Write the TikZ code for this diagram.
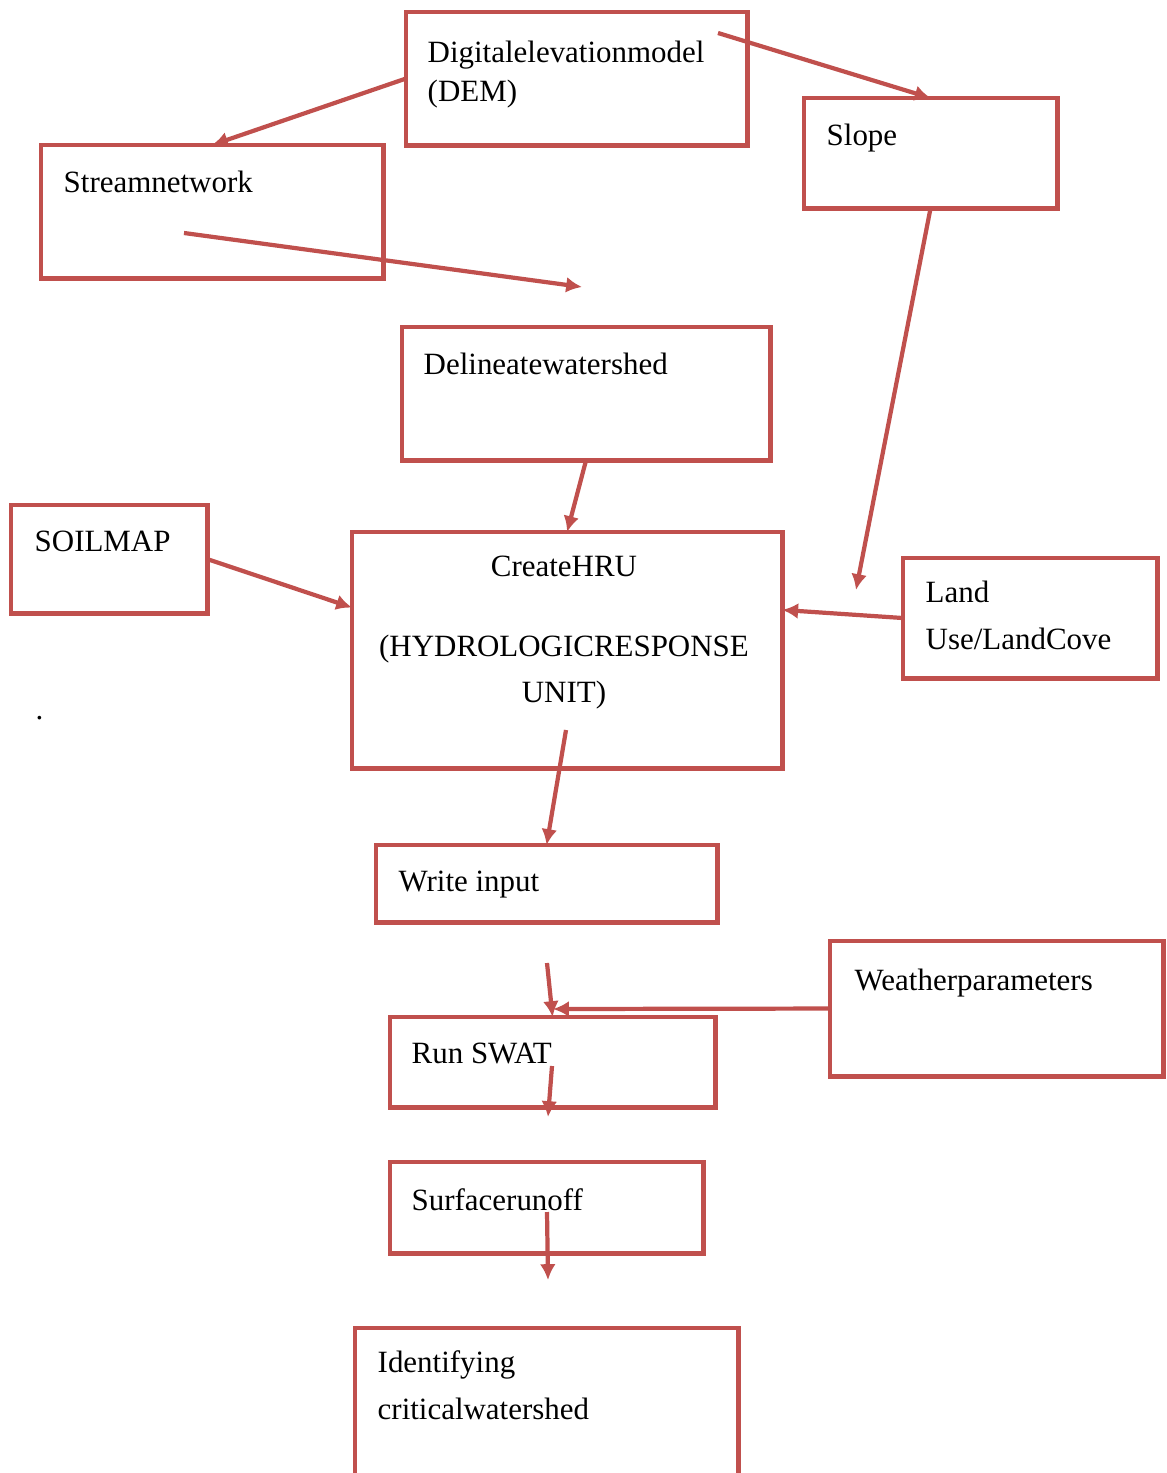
\documentclass[tikz,border=0pt]{standalone}
\usepackage{fontspec}
\setmainfont{Liberation Serif}
\usetikzlibrary{arrows.meta,calc}
\definecolor{boxred}{RGB}{192,80,77}
\tikzset{
	flowbox/.style={draw=boxred, line width=1.4pt, rectangle, anchor=north west, inner sep=0pt, outer sep=0pt},
	boxtext/.style={anchor=north west, inner sep=0pt, align=left, font=\fontsize{8.8}{13.4}\selectfont},
	flowarrow/.style={draw=boxred, line width=1.2pt, -{Latex[length=4.5pt,width=4.5pt]}}
}
\begin{document}
\begin{tikzpicture}[x=0.01cm, y=-0.01cm]
	\useasboundingbox (0,0) rectangle (1166,1473);
	\node[flowbox, minimum width=3.41cm, minimum height=1.33cm] (dem) at (406,12) {};
	\node[flowbox, minimum width=2.53cm, minimum height=1.10cm] (slope) at (804,98) {};
	\node[flowbox, minimum width=3.42cm, minimum height=1.33cm] (stream) at (41,145) {};
	\node[flowbox, minimum width=3.68cm, minimum height=1.33cm] (delin) at (402,327) {};
	\node[flowbox, minimum width=1.96cm, minimum height=1.08cm] (soil) at (11,505) {};
	\node[flowbox, minimum width=4.30cm, minimum height=2.36cm] (hru) at (352,532) {};
	\node[flowbox, minimum width=2.54cm, minimum height=1.20cm] (land) at (903,558) {};
	\node[flowbox, minimum width=3.41cm, minimum height=0.77cm] (write) at (376,845) {};
	\node[flowbox, minimum width=3.33cm, minimum height=1.35cm] (weather) at (830,941) {};
	\node[flowbox, minimum width=3.25cm, minimum height=0.90cm] (run) at (390,1017) {};
	\node[flowbox, minimum width=3.13cm, minimum height=0.91cm] (surface) at (390,1162) {};
	\node[flowbox, minimum width=3.83cm, minimum height=1.52cm] (ident) at (355,1328) {};

	\node[boxtext, font=\fontsize{8.8}{11.1}\selectfont] (dem-t) at (427,40) {Digitalelevationmodel\\(DEM)};
	\node[boxtext] (slope-t) at (826,123) {Slope};
	\node[boxtext] (stream-t) at (63,170) {Streamnetwork};
	\node[boxtext] (delin-t) at (423,352) {Delineatewatershed};
	\node[boxtext] (soil-t) at (34,530) {SOILMAP};
	\node[boxtext, anchor=north, align=center, font=\fontsize{8.8}{12.9}\selectfont] (hru-t) at (564,555) {CreateHRU\\[10pt](HYDROLOGICRESPONSE\\UNIT)};
	\node[boxtext] (land-t) at (925,580) {Land\\Use/LandCove};
	\node[boxtext] (write-t) at (398,870) {Write input};
	\node[boxtext] (weather-t) at (854,968) {Weatherparameters};
	\node[boxtext] (run-t) at (411,1042) {Run SWAT};
	\node[boxtext] (surface-t) at (411,1188) {Surfacerunoff};
	\node[boxtext] (ident-t) at (377,1350) {Identifying\\criticalwatershed};
	\node[boxtext] (dot) at (35,716) {.};

	\coordinate (dem-out) at (718,33);
	\coordinate (stream-in) at (184,233);
	\coordinate (stream-end) at (582,287);
	\coordinate (slope-end) at (856,590);
	\coordinate (hru-out) at (566,730);
	\coordinate (write-end) at (547,963);
	\coordinate (join) at (553,1009);
	\coordinate (run-out) at (552,1066);
	\coordinate (run-end) at (548,1117);
	\coordinate (surface-out) at (547,1212);
	\coordinate (surface-end) at (548,1280);

	\draw[flowarrow] (dem.west) -- (stream.north);
	\draw[flowarrow] (dem-out) -- (slope.north);
	\draw[flowarrow] (stream-in) -- (stream-end);
	\draw[flowarrow] (delin.south) -- (hru.north);
	\draw[flowarrow] (slope.south) -- (slope-end);
	\draw[flowarrow] (soil.east) -- ($(hru.north west)!0.32!(hru.south west)$);
	\draw[flowarrow] (land.west) -- ($(hru.north east)!0.33!(hru.south east)$);
	\draw[flowarrow] (hru-out) -- (write.north);
	\draw[flowarrow] (write-end) -- (run.north);
	\draw[flowarrow] (weather.west) -- (join);
	\draw[flowarrow] (run-out) -- (run-end);
	\draw[flowarrow] (surface-out) -- (surface-end);
\end{tikzpicture}
\end{document}
